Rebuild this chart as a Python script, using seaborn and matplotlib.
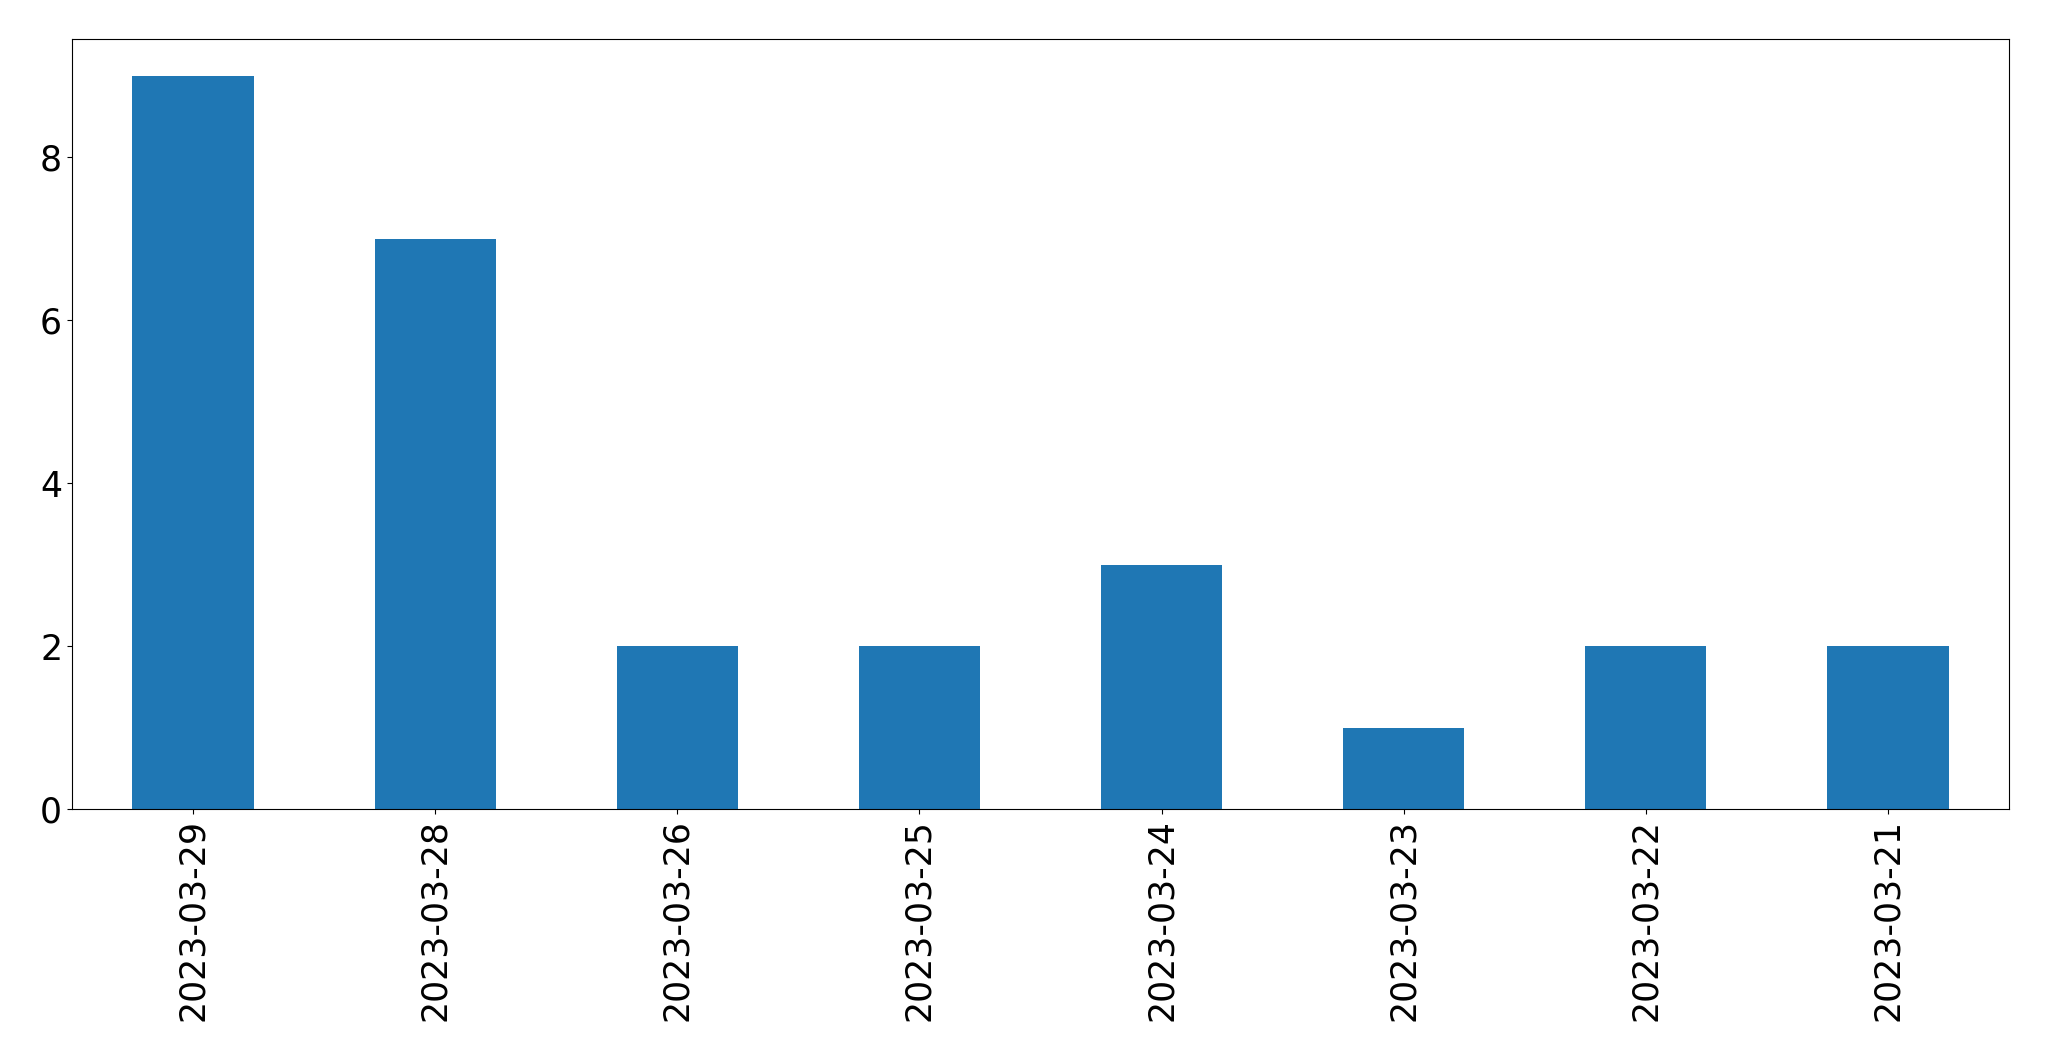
import matplotlib
matplotlib.use("Agg")
import matplotlib.pyplot as plt
import seaborn as sns
import pandas as pd

dates = ["2023-03-29", "2023-03-28", "2023-03-26", "2023-03-25",
         "2023-03-24", "2023-03-23", "2023-03-22", "2023-03-21"]
counts = [9, 7, 2, 2, 3, 1, 2, 2]

df = pd.DataFrame({"date": dates, "count": counts})

fig, ax = plt.subplots(figsize=(20.49, 10.61), dpi=100)
fig.subplots_adjust(left=0.0351, right=0.9805, top=0.9632, bottom=0.2375)

sns.barplot(data=df, x="date", y="count", order=dates, color="#1f77b4",
            saturation=1, width=0.5, ax=ax)

ax.set_xlim(-0.5, len(dates) - 0.5)
ax.set_ylim(0, max(counts) * 1.05)
ax.set_yticks([0, 2, 4, 6, 8])
ax.set_xlabel("")
ax.set_ylabel("")
ax.tick_params(axis="both", labelsize=25)
plt.setp(ax.get_xticklabels(), rotation=90)

fig.savefig("out.png", dpi=100)
